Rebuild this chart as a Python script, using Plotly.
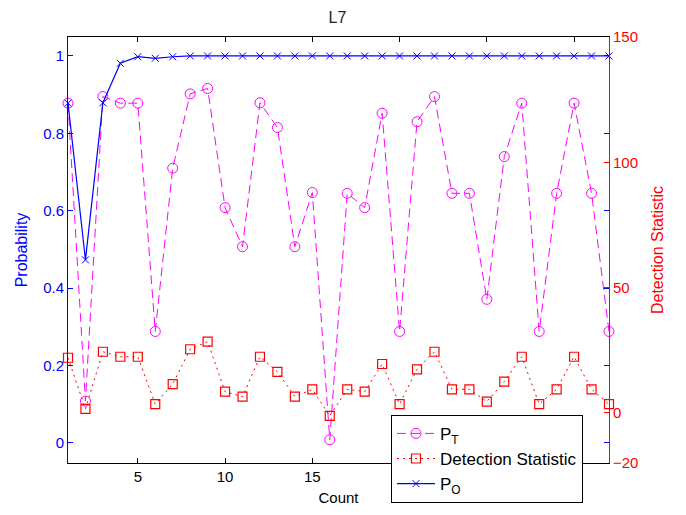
import plotly.graph_objects as go

count = list(range(1, 33))
p_t = [0.878, 0.108, 0.895, 0.878, 0.878, 0.288, 0.71, 0.902, 0.916, 0.608,
       0.507, 0.879, 0.815, 0.507, 0.647, 0.008, 0.645, 0.608, 0.852, 0.288,
       0.830, 0.895, 0.645, 0.645, 0.371, 0.740, 0.878, 0.288, 0.645, 0.878,
       0.645, 0.288]
det_stat = [22.0, 1.6, 24.4, 22.4, 22.4, 3.5, 11.5, 25.4, 28.4, 8.5,
            6.5, 22.4, 16.4, 6.5, 9.4, -1.2, 9.4, 8.5, 19.5, 3.5,
            17.4, 24.4, 9.4, 9.4, 4.5, 12.5, 22.4, 3.5, 9.4, 22.4,
            9.4, 3.5]
p_o = [0.878, 0.473, 0.879, 0.981, 0.998, 0.994, 0.998] + [1.0] * 25

left_ticks = [0, 0.2, 0.4, 0.6, 0.8, 1]
left_labels = ["0", "0.2", "0.4", "0.6", "0.8", "1"]
right_ticks = [-20, 0, 50, 100, 150]
x_ticks = [5, 10, 15, 20, 25, 30]

BLUE = "#0000FF"
RED = "#FF0000"
MAG = "#FF00FF"
FONT = "Liberation Sans, Arial, sans-serif"

fig = go.Figure()
fig.add_trace(go.Scatter(
    x=count, y=p_t, name="P<sub>T</sub>", mode="lines+markers",
    line=dict(color=MAG, width=1, dash="9px,5px"),
    marker=dict(symbol="circle-open", size=10, color=MAG, line=dict(width=1, color=MAG)),
    yaxis="y", cliponaxis=False))
fig.add_trace(go.Scatter(
    x=count, y=det_stat, name="Detection Statistic", mode="lines+markers",
    line=dict(color=RED, width=1, dash="2px,4px"),
    marker=dict(symbol="square-open", size=9, color=RED, line=dict(width=1.2, color=RED)),
    yaxis="y2", cliponaxis=False))
fig.add_trace(go.Scatter(
    x=count, y=p_o, name="P<sub>O</sub>", mode="lines+markers",
    line=dict(color=BLUE, width=1.2),
    marker=dict(symbol="x-thin-open", size=7, color=BLUE, line=dict(width=1, color=BLUE)),
    yaxis="y", cliponaxis=False))
fig.add_trace(go.Scatter(x=[None], y=[None], yaxis="y3", showlegend=False, hoverinfo="skip"))

fig.update_layout(
    width=686, height=515,
    margin=dict(l=68, r=77, t=37, b=52, autoexpand=False),
    paper_bgcolor="white", plot_bgcolor="white",
    font=dict(family=FONT, size=15, color="black"),
    title=dict(text="L7", x=0.492, xanchor="center", y=0.966, yanchor="middle",
               font=dict(size=16, color="#222222")),
    xaxis=dict(range=[1, 32], tickvals=x_ticks, ticks="inside", ticklen=5,
               showline=True, linecolor="black", linewidth=1, mirror="ticks",
               showgrid=False, zeroline=False, tickcolor="black", automargin=False,
               title=dict(text="Count", standoff=8, font=dict(size=15)),
               tickfont=dict(size=15)),
    yaxis=dict(range=[-0.052, 1.049], tickvals=left_ticks, ticktext=left_labels,
               ticks="inside", ticklen=5, tickcolor=BLUE, automargin=False,
               showline=True, linecolor=BLUE, linewidth=1,
               showgrid=False, zeroline=False,
               tickfont=dict(color=BLUE, size=15),
               title=dict(text="Probability", font=dict(color=BLUE, size=16), standoff=11)),
    yaxis2=dict(range=[-20, 150], tickvals=right_ticks, overlaying="y", side="right",
                ticks="inside", ticklen=5, tickcolor=RED, automargin=False,
                showline=True, linecolor=RED, linewidth=1,
                showgrid=False, zeroline=False,
                tickfont=dict(color=RED, size=15),
                title=dict(text="Detection Statistic", font=dict(color=RED, size=16), standoff=14)),
    yaxis3=dict(range=[-0.052, 1.049], tickvals=left_ticks, overlaying="y", side="right",
                ticks="inside", ticklen=5, tickcolor=BLUE, showticklabels=False,
                showline=False, showgrid=False, zeroline=False, automargin=False),
    legend=dict(x=0.597, y=0.113, xanchor="left", yanchor="top",
                bgcolor="white", bordercolor="black", borderwidth=1,
                font=dict(size=17, color="black"), tracegroupgap=0,
                itemwidth=38),
    showlegend=True,
)

fig.write_html("out.html", config={"displayModeBar": False},
               post_script="document.body.style.margin='0';document.body.style.overflow='hidden';")
